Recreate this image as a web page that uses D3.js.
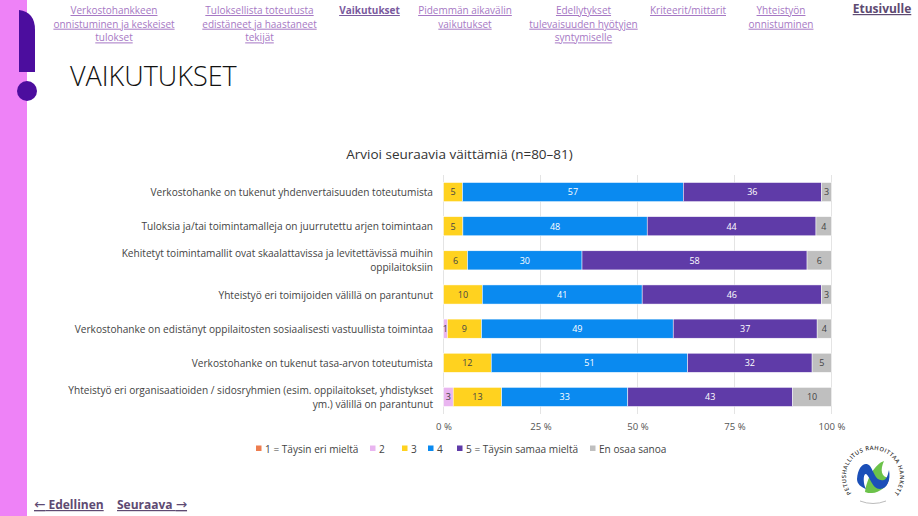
<!DOCTYPE html>
<html><head><meta charset="utf-8">
<script src="https://cdn.jsdelivr.net/npm/d3@7"></script>
<style>html,body{margin:0;padding:0;background:#fff;overflow:hidden}svg{display:block}text{font-family:"Open Sans","Noto Sans",sans-serif}</style>
</head><body><svg id="c" width="918" height="516"></svg>
<script>
const chartTitle = "Arvioi seuraavia väittämiä (n=80–81)";
const categories = [
  ["Verkostohanke on tukenut yhdenvertaisuuden toteutumista"],
  ["Tuloksia ja/tai toimintamalleja on juurrutettu arjen toimintaan"],
  ["Kehitetyt toimintamallit ovat skaalattavissa ja levitettävissä muihin","oppilaitoksiin"],
  ["Yhteistyö eri toimijoiden välillä on parantunut"],
  ["Verkostohanke on edistänyt oppilaitosten sosiaalisesti vastuullista toimintaa"],
  ["Verkostohanke on tukenut tasa-arvon toteutumista"],
  ["Yhteistyö eri organisaatioiden / sidosryhmien (esim. oppilaitokset, yhdistykset","ym.) välillä on parantunut"]
];
const seriesNames = ["1 = Täysin eri mieltä","2","3","4","5 = Täysin samaa mieltä","En osaa sanoa"];
const seriesColors = ["#ED7D4F","#E9B5F0","#FFD21F","#0A8AF0","#5F3BA8","#BFBFBF"];
const labelColors = ["#333","#444","#444","#fff","#fff","#444"];
const s1 = [0,0,0,0,0,0,0];
const s2 = [0,0,0,0,1,0,2.5];
const s3 = [4.9,5,6.2,10,8.8,12.3,12.5];
const s4 = [56.9,47.5,29.5,41.2,49.4,50.6,32.5];
const s5 = [35.6,43.5,58,46.2,37.1,32.1,42.5];
const s6 = [2.6,4,6.3,2.6,3.7,5,10];
const ticks = [0,25,50,75,100];
const navItems = [
  {lines:["Verkostohankkeen","onnistuminen ja keskeiset","tulokset"],x:114},
  {lines:["Tuloksellista toteutusta","edistäneet ja haastaneet","tekijät"],x:259.5},
  {lines:["Vaikutukset"],x:369.5,bold:true},
  {lines:["Pidemmän aikavälin","vaikutukset"],x:465},
  {lines:["Edellytykset","tulevaisuuden hyötyjen","syntymiselle"],x:583.5},
  {lines:["Kriteerit/mittarit"],x:688},
  {lines:["Yhteistyön","onnistuminen"],x:781}
];
const logoText = "OPETUSHALLITUS  RAHOITTAA  HANKETTA";

const svg = d3.select("#c");
svg.append("rect").attr("x",0).attr("y",0).attr("width",27).attr("height",516).attr("fill","#EE82F7");
svg.append("path").attr("d","M19 10 Q35 12 35 30 V72 H19 Z").attr("fill","#4C0D9E");
svg.append("circle").attr("cx",27).attr("cy",91).attr("r",10).attr("fill","#4C0D9E");

navItems.forEach(n=>{
  n.lines.forEach((l,i)=>{
    svg.append("text").attr("x",n.x).attr("y",14+i*13.7).attr("text-anchor","middle")
      .attr("font-size",n.bold?10:10).attr("font-weight",n.bold?700:400)
      .attr("fill",n.bold?"#7A5A9E":"#A678C4").attr("text-decoration","underline").text(l);
  });
});
svg.append("text").attr("x",882).attr("y",13).attr("text-anchor","middle").attr("font-size",12).attr("font-weight",700)
  .attr("fill","#5E4A72").attr("text-decoration","underline").text("Etusivulle");
svg.append("text").attr("x",70).attr("y",86).attr("font-size",27).attr("font-weight",300).attr("fill","#111").text("VAIKUTUKSET");

const x = d3.scaleLinear().domain([0,100]).range([443.5,831.5]);
const y = d3.scaleBand().domain(d3.range(categories.length)).range([175,414]).paddingInner(0.44).paddingOuter(0.22);
svg.append("text").attr("x",459.5).attr("y",159).attr("text-anchor","middle").attr("font-size",13.5).attr("fill","#333").text(chartTitle);

const grid = svg.append("g");
ticks.forEach(t=>grid.append("line").attr("x1",x(t)).attr("x2",x(t)).attr("y1",175).attr("y2",414).attr("stroke","#E4E4E4").attr("stroke-width",1));

const axis = svg.append("g").attr("transform","translate(0,414)").call(d3.axisBottom(x).tickValues(ticks).tickSize(0).tickPadding(9).tickFormat(d=>d+" %"));
axis.select(".domain").remove();
axis.selectAll("text").attr("font-size",9.6).attr("fill","#555").style("font-family",'"Open Sans",sans-serif');

const rows = categories.map((c,i)=>({i,vals:[s1[i],s2[i],s3[i],s4[i],s5[i],s6[i]]}));
const rowG = svg.selectAll("g.row").data(rows).join("g").attr("class","row");
rowG.each(function(r){
  const g = d3.select(this);
  let acc = 0;
  r.vals.forEach((v,k)=>{
    if(v>0){
      g.append("rect").attr("x",x(acc)).attr("y",y(r.i)).attr("width",x(acc+v)-x(acc)).attr("height",y.bandwidth())
        .attr("fill",seriesColors[k]).attr("stroke","#fff").attr("stroke-width",0.5);
      g.append("text").attr("x",x(acc+v/2)).attr("y",y(r.i)+y.bandwidth()/2+3.3).attr("text-anchor","middle")
        .attr("font-size",9).attr("fill",labelColors[k]).text(Math.round(v));
    }
    acc += v;
  });
  const lines = categories[r.i];
  lines.forEach((l,j)=>{
    g.append("text").attr("x",433).attr("y",y(r.i)+y.bandwidth()/2+4+(j-(lines.length-1)/2)*14)
      .attr("text-anchor","end").attr("font-size",10.12).attr("fill","#444").text(l);
  });
});

const legendX = [256,370,402,428,457,590];
seriesNames.forEach((n,k)=>{
  svg.append("rect").attr("x",legendX[k]).attr("y",445.5).attr("width",5.5).attr("height",5.5).attr("fill",seriesColors[k]);
  svg.append("text").attr("x",legendX[k]+9).attr("y",452.5).attr("font-size",10.1).attr("fill","#444").text(n);
});

function navLink(xPos, parts){
  const t = svg.append("text").attr("x",xPos).attr("y",509).attr("font-size",12).attr("font-weight",700)
    .attr("fill","#5E4A72").attr("text-decoration","underline");
  parts.forEach(p=>{
    const s = t.append("tspan").text(p.t);
    if(p.arrow) s.style("font-family",'"DejaVu Sans",sans-serif').attr("font-weight",400).attr("font-size",13.5);
  });
}
navLink(34,[{t:"←",arrow:true},{t:" Edellinen"}]);
navLink(117,[{t:"Seuraava "},{t:"→",arrow:true}]);

const logo = svg.append("g").attr("transform","translate(873,476)");
logo.append("path").attr("d","M-8 16 C-6 2 2 -12 11 -15 C7 -6 8 1 16 2 C16 10 6 17 -1 17 C-4 17 -6 17 -8 16Z").attr("fill","#6CC24A");
logo.append("path").attr("d","M-16 3 C-15 -10 -8 -15 -3 -10 C1 -5 2 6 11 4 C14 3 15 -2 16 -6 C18 4 14 13 7 13 C-1 13 -3 0 -7 -2 C-10 -3 -10 8 -7 13 C-12 11 -16 8 -16 3Z").attr("fill","#1B4FB8");
logo.append("path").attr("id","logoArc").attr("d","M-20 19 A27 27 0 1 1 20 19").attr("fill","none");
logo.append("text").attr("font-size",5.8).attr("font-weight",600).attr("fill","#333").attr("letter-spacing",0.45)
  .append("textPath").attr("href","#logoArc").attr("startOffset","50%").attr("text-anchor","middle").text(logoText);
logo.append("path").attr("d","M-13 25 Q0 30 13 25").attr("fill","none").attr("stroke","#aaa").attr("stroke-width",0.8);
</script></body></html>
